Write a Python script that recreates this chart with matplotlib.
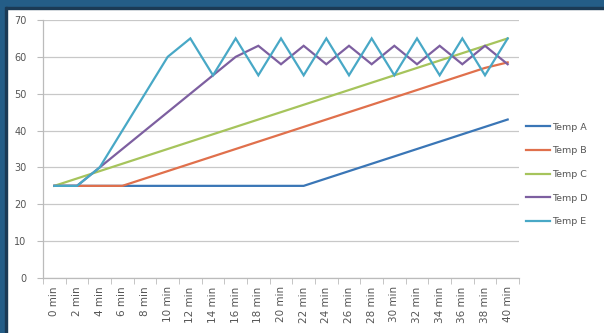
import matplotlib
matplotlib.use("Agg")
import matplotlib.pyplot as plt
from matplotlib.patches import Rectangle

categories = ["0 min", "2 min", "4 min", "6 min", "8 min", "10 min", "12 min", "14 min",
              "16 min", "18 min", "20 min", "22 min", "24 min", "26 min", "28 min",
              "30 min", "32 min", "34 min", "36 min", "38 min", "40 min"]
temp_a = [25, 25, 25, 25, 25, 25, 25, 25, 25, 25, 25, 25, 27, 29, 31, 33, 35, 37, 39, 41, 43]
temp_b = [25, 25, 25, 25, 27, 29, 31, 33, 35, 37, 39, 41, 43, 45, 47, 49, 51, 53, 55, 57, 58.5]
temp_c = [25, 27, 29, 31, 33, 35, 37, 39, 41, 43, 45, 47, 49, 51, 53, 55, 57, 59, 61, 63, 65]
temp_d = [25, 25, 30, 35, 40, 45, 50, 55, 60, 63, 58, 63, 58, 63, 58, 63, 58, 63, 58, 63, 58]
temp_e = [25, 25, 30, 40, 50, 60, 65, 55, 65, 55, 65, 55, 65, 55, 65, 55, 65, 55, 65, 55, 65]
series_names = ["Temp A", "Temp B", "Temp C", "Temp D", "Temp E"]
y_ticks = [0, 10, 20, 30, 40, 50, 60, 70]

colors = ["#3A76B6", "#E0704C", "#A6C45C", "#7D5FA0", "#48A8C6"]

fig = plt.figure(figsize=(6.04, 3.33), dpi=100, facecolor="white")
ax = fig.add_axes([43 / 604, 1 - 278 / 333, (519 - 43) / 604, (278 - 20) / 333])

x = list(range(len(categories)))
for vals, name, c in zip([temp_a, temp_b, temp_c, temp_d, temp_e], series_names, colors):
    ax.plot(x, vals, color=c, lw=1.6, label=name, solid_joinstyle="miter")

ax.set_xlim(-0.5, len(categories) - 0.5)
ax.set_ylim(0, 70)
ax.set_yticks(y_ticks)
ax.set_yticklabels([str(v) for v in y_ticks], fontsize=7, color="#555555")
ax.set_xticks(x)
ax.set_xticklabels(categories, rotation=90, fontsize=7.5, color="#555555")
ax.set_xticks([i - 0.5 for i in range(len(categories) + 1)], minor=True)
ax.tick_params(axis="x", which="major", length=0, pad=6)
ax.tick_params(axis="x", which="minor", length=4, color="#BBBBBB", direction="out")
ax.tick_params(axis="y", length=4, color="#BBBBBB", pad=8)
ax.grid(axis="y", color="#C8C8C8", lw=0.9)
ax.set_axisbelow(True)
for s in ["top", "right"]:
    ax.spines[s].set_visible(False)
for s in ["left", "bottom"]:
    ax.spines[s].set_color("#BBBBBB")
    ax.spines[s].set_linewidth(0.9)

leg = fig.legend(loc="upper left", bbox_to_anchor=(522 / 604, 1 - 119 / 333),
                 frameon=False, fontsize=6.8, handlelength=2.6, handletextpad=0.15,
                 labelspacing=1.55, borderaxespad=0)
for t in leg.get_texts():
    t.set_color("#555555")

# dark blue frame on top and left
fig.patches.append(Rectangle((0, 1 - 7 / 333), 1, 7 / 333, transform=fig.transFigure,
                             color="#245D87", zorder=10))
fig.patches.append(Rectangle((0, 1 - 8.5 / 333), 1, 1.5 / 333, transform=fig.transFigure,
                             color="#1B3A55", zorder=10))
fig.patches.append(Rectangle((0, 0), 5 / 604, 1, transform=fig.transFigure,
                             color="#245D87", zorder=10))
fig.patches.append(Rectangle((5 / 604, 0), 1.5 / 604, 1 - 7 / 333, transform=fig.transFigure,
                             color="#1B3A55", zorder=10))

fig.savefig("out.png", dpi=100, facecolor="white")
